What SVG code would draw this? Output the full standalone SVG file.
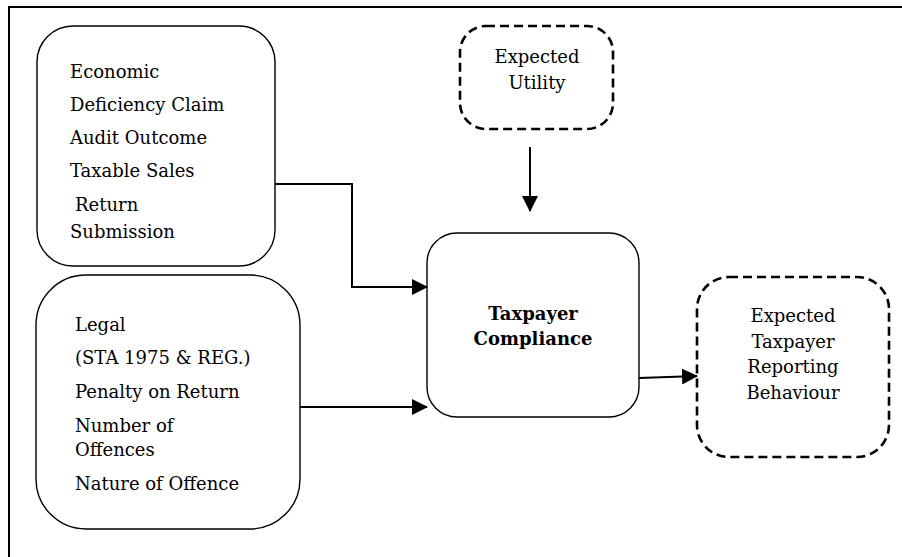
<svg xmlns="http://www.w3.org/2000/svg" width="902" height="557" viewBox="0 0 902 557">
<style>
  .box { fill: #ffffff; stroke: #000000; stroke-width: 1.4; }
  .dash { fill: #ffffff; stroke: #000000; stroke-width: 2.6; stroke-dasharray: 9 5; }
  .t { font-family: "DejaVu Serif", "Liberation Serif", serif; font-size: 18px; fill: #000000; }
  .c { text-anchor: middle; }
  .b { font-weight: bold; }
  .conn { fill: none; stroke: #000000; stroke-width: 2; }
</style>
<defs>
  <marker id="arr" markerWidth="16" markerHeight="16" refX="15" refY="8" orient="auto" markerUnits="userSpaceOnUse">
    <path d="M0,0 L16,8 L0,16 Z" fill="#000000"/>
  </marker>
</defs>
<rect x="0" y="0" width="902" height="557" fill="#ffffff"/>
<rect id="frame" x="9" y="7" width="910" height="570" fill="none" stroke="#000000" stroke-width="2"/>

<g id="economic">
  <rect class="box" x="37" y="26" width="238" height="240" rx="36" ry="36"/>
  <text class="t" x="70" y="78">Economic</text>
  <text class="t" x="70" y="111">Deficiency Claim</text>
  <text class="t" x="70" y="144">Audit Outcome</text>
  <text class="t" x="70" y="177">Taxable Sales</text>
  <text class="t" x="75" y="211">Return</text>
  <text class="t" x="70" y="238">Submission</text>
</g>

<g id="legal">
  <rect class="box" x="36" y="275" width="264" height="254" rx="50" ry="50"/>
  <text class="t" x="75" y="331">Legal</text>
  <text class="t" x="75" y="364">(STA 1975 &amp; REG.)</text>
  <text class="t" x="75" y="398">Penalty on Return</text>
  <text class="t" x="75" y="432">Number of</text>
  <text class="t" x="75" y="456">Offences</text>
  <text class="t" x="75" y="490">Nature of Offence</text>
</g>

<g id="utility">
  <rect class="dash" x="460" y="26" width="153" height="103" rx="26" ry="26"/>
  <text class="t c" x="537" y="63">Expected</text>
  <text class="t c" x="537" y="89">Utility</text>
</g>

<g id="compliance">
  <rect class="box" x="427" y="233" width="212" height="184" rx="30" ry="30"/>
  <text class="t c b" x="533" y="320">Taxpayer</text>
  <text class="t c b" x="533" y="345">Compliance</text>
</g>

<g id="behaviour">
  <rect class="dash" x="697" y="277" width="192" height="180" rx="32" ry="32"/>
  <text class="t c" x="793" y="322">Expected</text>
  <text class="t c" x="793" y="348">Taxpayer</text>
  <text class="t c" x="793" y="373">Reporting</text>
  <text class="t c" x="793" y="399">Behaviour</text>
</g>

<g id="connectors">
  <path class="conn" d="M275,184 H352 V287 H427" marker-end="url(#arr)"/>
  <path class="conn" d="M300,407 H427" marker-end="url(#arr)"/>
  <path class="conn" d="M530,147 V211" marker-end="url(#arr)"/>
  <path class="conn" d="M639,378 L697,376" marker-end="url(#arr)"/>
</g>
</svg>
